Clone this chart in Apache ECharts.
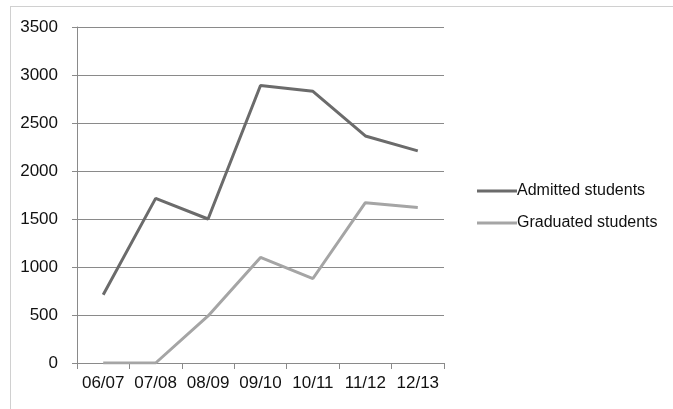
<!DOCTYPE html>
<html><head><meta charset="utf-8">
<script src="https://cdn.jsdelivr.net/npm/echarts@6/dist/echarts.min.js"></script>
<style>html,body{margin:0;padding:0;background:#fff;overflow:hidden}#c{width:673px;height:409px}
#frame{position:absolute;left:10px;top:6px;width:663px;height:403px;border-top:1px solid #d0d0d0;border-left:1px solid #d0d0d0;box-sizing:border-box;pointer-events:none}</style>
</head><body><div id="c"></div><div id="frame"></div>
<script>
const categories = ['06/07','07/08','08/09','09/10','10/11','11/12','12/13'];
const admitted = [710, 1715, 1500, 2890, 2830, 2365, 2210];
const graduated = [0, 0, 490, 1100, 880, 1670, 1620];
const seriesNames = ['Admitted students','Graduated students'];
const chart = echarts.init(document.getElementById('c'));
const font = 'Liberation Sans';
chart.setOption({
  animation:false,
  grid:{left:77,right:229,top:27,bottom:46},
  legend:{orient:'vertical',left:472,top:178,itemGap:16,itemWidth:40,itemHeight:3,
    icon:'rect',textStyle:{fontFamily:font,fontSize:16,color:'#111',padding:[0,0,0,-5]},
    data:seriesNames},
  xAxis:{type:'category',data:categories,boundaryGap:true,
    axisLine:{lineStyle:{color:'#8a8a8a',width:1}},
    axisTick:{show:true,interval:0,length:6,lineStyle:{color:'#8a8a8a'}},
    axisLabel:{interval:0,fontFamily:font,fontSize:17,color:'#111',margin:12}},
  yAxis:{type:'value',min:0,max:3500,interval:500,
    axisLine:{show:true,lineStyle:{color:'#8a8a8a'}},
    axisTick:{show:true,length:5,lineStyle:{color:'#8a8a8a'}},
    splitLine:{lineStyle:{color:'#8a8a8a',width:1}},
    axisLabel:{fontFamily:font,fontSize:17,color:'#111',margin:19,formatter:v=>String(v)}},
  series:[
    {name:seriesNames[0],type:'line',data:admitted,symbol:'none',lineStyle:{color:'#6b6b6b',width:3},itemStyle:{color:'#6b6b6b'}},
    {name:seriesNames[1],type:'line',data:graduated,symbol:'none',lineStyle:{color:'#a5a5a5',width:3},itemStyle:{color:'#a5a5a5'}}
  ]
});
</script></body></html>
